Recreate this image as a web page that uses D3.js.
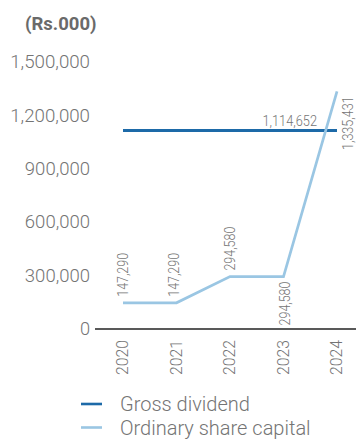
<!DOCTYPE html>
<html>
<head>
<meta charset="utf-8">
<script src="https://cdn.jsdelivr.net/npm/d3@7/dist/d3.min.js"></script>
<style>
  html, body { margin: 0; padding: 0; background: #fff; }
  svg { display: block; font-family: Roboto, "Noto Sans", sans-serif; }
</style>
</head>
<body>
<svg id="chart" width="356" height="439"></svg>
<script>
// Years on the horizontal axis
const years = ["2020", "2021", "2022", "2023", "2024"];
// Ordinary share capital (Rs.000)
const shareCapital = [147290, 147290, 294580, 294580, 1335431];
// Gross dividend (Rs.000)
const grossDividend = [1114652, 1114652, 1114652, 1114652, 1114652];
// Y axis ticks
const yTicks = [0, 300000, 600000, 900000, 1200000, 1500000];
// Where each capital label sits relative to its point
const capitalLabelSide = ["above", "above", "above", "below", "right"];

const colors = { dividend: "#1d6aa8", capital: "#9ac6e3", text: "#747474", axis: "#222" };
const FONT = "Roboto, 'Noto Sans', sans-serif";

const svg = d3.select("#chart");

const x = d3.scalePoint().domain(years).range([123, 337]);
const y = d3.scaleLinear().domain([0, 1500000]).range([329, 62]);

const fmt = d3.format(",");

// Condensed look for the numeric labels
function condense(sel, perChar) {
  sel.each(function () {
    const t = d3.select(this);
    const s = t.text();
    const digits = s.replace(/,/g, "").length;
    const commas = s.length - digits;
    t.attr("textLength", digits * perChar + commas * perChar * 0.45)
     .attr("lengthAdjust", "spacingAndGlyphs");
  });
}

// Unit title
svg.append("text")
  .attr("x", 25).attr("y", 30)
  .attr("fill", "#6a6a6a")
  .attr("font-family", FONT)
  .attr("font-size", 18.5).attr("font-weight", 700)
  .text("(Rs.000)");

// Y axis labels
const yAxis = d3.axisLeft(y).tickValues(yTicks).tickSize(0).tickPadding(0).tickFormat(fmt);
const gy = svg.append("g").attr("transform", "translate(90,0)").call(yAxis);
gy.attr("font-family", FONT);
gy.select(".domain").remove();
gy.selectAll("text")
  .attr("fill", colors.text)
  .attr("font-size", 18)
  .attr("font-weight", 300)
  .call(condense, 10.1);

// X axis baseline and rotated year labels
const xAxis = d3.axisBottom(x).tickSize(0).tickPadding(0);
const gx = svg.append("g").attr("transform", `translate(0,${y(0)})`).call(xAxis);
gx.attr("font-family", FONT);
gx.select(".domain").remove();
gx.append("line")
  .attr("x1", 95).attr("x2", 356)
  .attr("stroke", colors.axis).attr("stroke-width", 1.3);
gx.selectAll(".tick text")
  .attr("fill", colors.text)
  .attr("font-size", 16.5)
  .attr("font-weight", 300)
  .attr("text-anchor", "end")
  .attr("transform", "rotate(-90)")
  .attr("x", -11).attr("y", -1).attr("dy", "0.36em")
  .attr("textLength", 35).attr("lengthAdjust", "spacingAndGlyphs");

// Gross dividend line
const line = d3.line().x((d, i) => x(years[i])).y(d => y(d));
svg.append("path")
  .datum(grossDividend)
  .attr("fill", "none")
  .attr("stroke", colors.dividend)
  .attr("stroke-width", 3)
  .attr("d", line);

// Ordinary share capital line
svg.append("path")
  .datum(shareCapital)
  .attr("fill", "none")
  .attr("stroke", colors.capital)
  .attr("stroke-width", 2.7)
  .attr("d", line);

// Gross dividend value label at the last year
const lastIdx = grossDividend.length - 1;
svg.append("text")
  .attr("x", x(years[lastIdx]) - 20)
  .attr("y", y(grossDividend[lastIdx]) - 5)
  .attr("text-anchor", "end")
  .attr("fill", colors.text)
  .attr("font-family", FONT)
  .attr("font-size", 15.5)
  .attr("font-weight", 300)
  .text(fmt(grossDividend[lastIdx]))
  .call(condense, 6.9);

// Share capital value labels (rotated)
shareCapital.forEach((v, i) => {
  const side = capitalLabelSide[i];
  let px = x(years[i]), py = y(v), anchor = "start";
  if (side === "above") { py -= 6; px -= i === 1 ? 3 : 0; anchor = "start"; }
  else if (side === "below") { py += 5; px += 1; anchor = "end"; }
  else { px += 11; py += 5; anchor = "end"; }
  svg.append("text")
    .attr("transform", `translate(${px},${py}) rotate(-90)`)
    .attr("text-anchor", anchor)
    .attr("dy", "0.36em")
    .attr("fill", colors.text)
    .attr("font-family", FONT)
    .attr("font-size", 14)
    .attr("font-weight", 300)
    .text(fmt(v))
    .call(condense, 6.8);
});

// Legend
const legend = [
  { label: "Gross dividend", color: colors.dividend },
  { label: "Ordinary share capital", color: colors.capital }
];
const lg = svg.append("g");
legend.forEach((d, i) => {
  const ly = 404 + i * 23.5;
  lg.append("line")
    .attr("x1", 81).attr("x2", 102)
    .attr("y1", ly).attr("y2", ly)
    .attr("stroke", d.color).attr("stroke-width", 2.6);
  lg.append("text")
    .attr("x", 120).attr("y", ly).attr("dy", "0.36em")
    .attr("fill", colors.text)
    .attr("font-family", FONT)
    .attr("font-size", 20)
    .attr("font-weight", 300)
    .text(d.label);
});
</script>
</body>
</html>
